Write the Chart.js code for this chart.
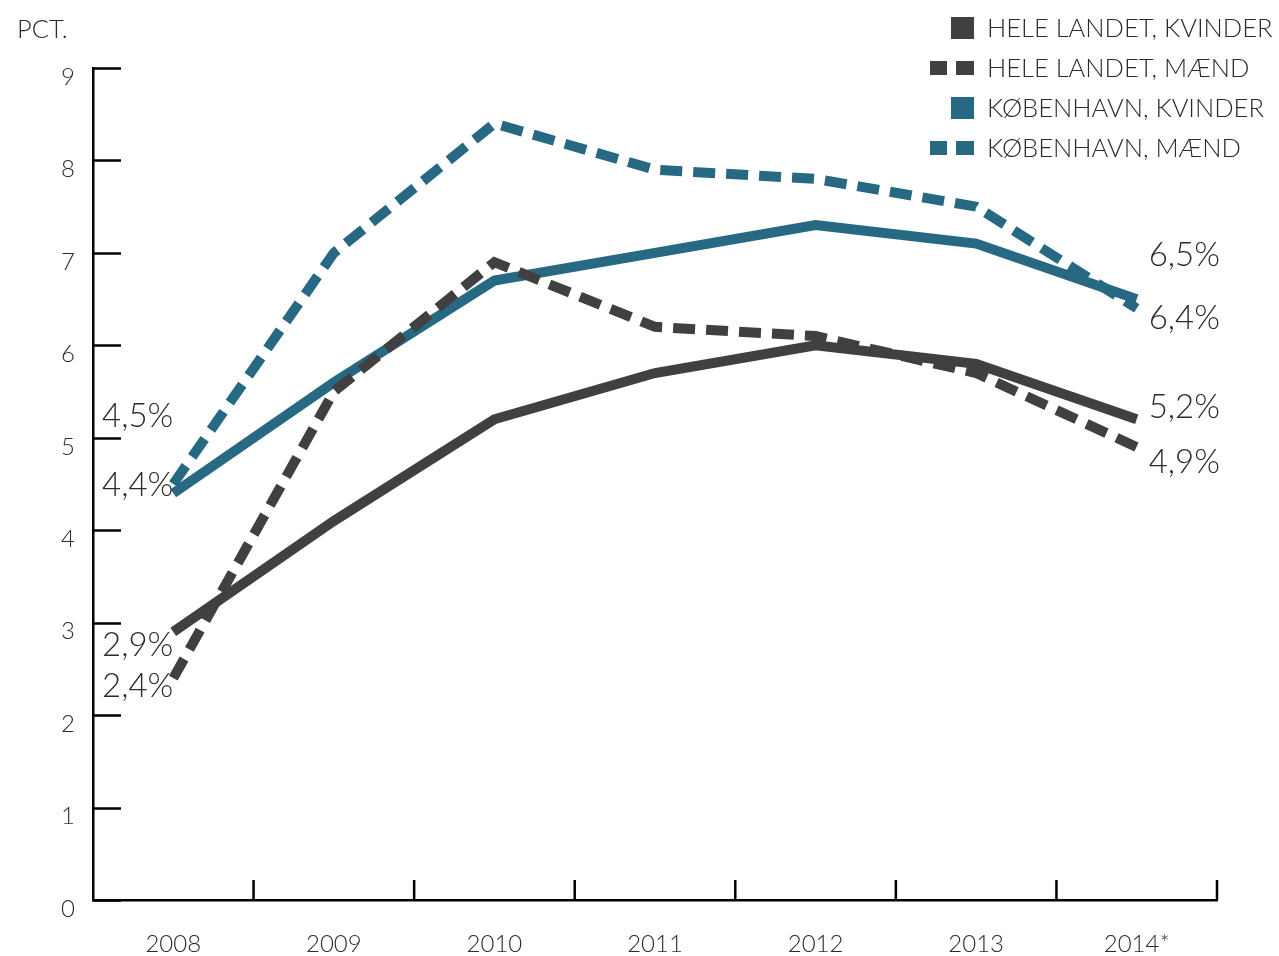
<!DOCTYPE html>
<html>
<head>
<meta charset="utf-8">
<script src="https://cdn.jsdelivr.net/npm/chart.js@4.4.1/dist/chart.umd.min.js"></script>
<style>
  html, body { margin:0; padding:0; background:#fff; }
  #wrap { position:relative; width:1279px; height:956px; }
</style>
</head>
<body>
<div id="wrap"><canvas id="chart" width="1279" height="956"></canvas></div>
<script>
// ---------- Data ----------

const years = ["2008","2009","2010","2011","2012","2013","2014*"];

const heleKvinder = [2.9, 4.1, 5.2, 5.7, 6.0, 5.8, 5.2];
const heleMaend   = [2.4, 5.5, 6.9, 6.2, 6.1, 5.7, 4.9];
const kbhKvinder  = [4.4, 5.6, 6.7, 7.0, 7.3, 7.1, 6.5];
const kbhMaend    = [4.5, 7.0, 8.4, 7.9, 7.8, 7.5, 6.4];

const seriesNames = [
    "HELE LANDET, KVINDER",
    "HELE LANDET, MÆND",
    "KØBENHAVN, KVINDER",
    "KØBENHAVN, MÆND"
];

// ---------- Style ----------

const DARK = "#404040";
const TEAL = "#276983";
const TEXT = "#2b2b2b";
const FONT = "Lato, 'Open Sans', sans-serif";

// label offsets (first point, last point) per series
const labelOffsets = [
    { first: 13,  last: -12 },
    { first: 8,   last: 15 },
    { first: -8,  last: -44 },
    { first: -68, last: 10 }
];

function fmt(v){
    return v.toFixed(1).replace(".", ",") + "%";
}

// ---------- Plugins ----------

const axisTicks = {
    id: "axisTicks",
    afterDraw(chart){
        const ctx = chart.ctx;
        const x = chart.scales.x;
        const y = chart.scales.y;
        ctx.save();
        ctx.strokeStyle = "#000";
        ctx.lineWidth = 2.5;
        y.ticks.forEach((t, i)=>{
            const py = Math.round(y.getPixelForTick(i)) + 0.5;
            ctx.beginPath();
            ctx.moveTo(x.left, py);
            ctx.lineTo(x.left + 28, py);
            ctx.stroke();
        });
        for(let i = 1; i <= years.length; i++){
            const px = x.getPixelForValue(i - 0.5);
            ctx.beginPath();
            ctx.moveTo(px, y.bottom);
            ctx.lineTo(px, y.bottom - 20);
            ctx.stroke();
        }
        ctx.restore();
    }
};

const endLabels = {
    id: "endLabels",
    afterDatasetsDraw(chart){
        const ctx = chart.ctx;
        ctx.save();
        ctx.fillStyle = TEXT;
        ctx.font = "300 33px " + FONT;
        ctx.textBaseline = "middle";
        chart.data.datasets.forEach((ds, di)=>{
            const pts = chart.getDatasetMeta(di).data;
            const first = pts[0];
            const last = pts[pts.length - 1];
            ctx.textAlign = "right";
            ctx.fillText(fmt(ds.data[0]), first.x, first.y + labelOffsets[di].first);
            ctx.textAlign = "left";
            ctx.fillText(fmt(ds.data[ds.data.length - 1]), last.x + 12, last.y + labelOffsets[di].last);
        });
        ctx.restore();
    }
};

const headerLegend = {
    id: "headerLegend",
    afterDraw(chart){
        const ctx = chart.ctx;
        ctx.save();
        ctx.fillStyle = TEXT;
        ctx.font = "300 25.5px " + FONT;
        ctx.textBaseline = "middle";
        ctx.textAlign = "left";
        ctx.fillText("PCT.", 17, 30);

        const rows = [28, 68, 108, 148];
        chart.data.datasets.forEach((ds, i)=>{
            const cy = rows[i];
            ctx.fillStyle = ds.borderColor;
            if(ds.borderDash && ds.borderDash.length){
                ctx.fillRect(930, cy - 7, 17, 14);
                ctx.fillRect(956, cy - 7, 18, 14);
            } else {
                ctx.fillRect(951, cy - 11, 23, 22);
            }
            ctx.fillStyle = TEXT;
            ctx.fillText(ds.label, 987, cy + 1);
        });
        ctx.restore();
    }
};

// ---------- Chart ----------

function makeSet(label, data, color, dashed){
    return {
        label: label,
        data: data,
        borderColor: color,
        backgroundColor: color,
        borderWidth: 10,
        borderDash: dashed ? [22, 11] : [],
        borderCapStyle: "butt",
        borderJoinStyle: "miter",
        pointRadius: 0,
        tension: 0,
        fill: false
    };
}

new Chart(document.getElementById("chart"), {
    type: "line",
    data: {
        labels: years,
        datasets: [
            makeSet(seriesNames[0], heleKvinder, DARK, false),
            makeSet(seriesNames[1], heleMaend, DARK, true),
            makeSet(seriesNames[2], kbhKvinder, TEAL, false),
            makeSet(seriesNames[3], kbhMaend, TEAL, true)
        ]
    },
    options: {
        responsive: false,
        animation: false,
        layout: { padding: { top: 68, right: 62, left: 0, bottom: 0 } },
        plugins: {
            legend: { display: false },
            tooltip: { enabled: false }
        },
        scales: {
            x: {
                offset: true,
                grid: { display: false, drawTicks: false },
                border: { display: true, color: "#000", width: 2.5 },
                ticks: {
                    color: TEXT,
                    font: { family: FONT, size: 24, weight: 300 },
                    padding: 30,
                    maxRotation: 0
                },
                afterFit(scale){ scale.height = 56; }
            },
            y: {
                min: 0,
                max: 9,
                grid: { display: false, drawTicks: false },
                border: { display: true, color: "#000", width: 2.5 },
                ticks: {
                    stepSize: 1,
                    color: TEXT,
                    font: { family: FONT, size: 24, weight: 300 },
                    padding: 18,
                    labelOffset: 9
                },
                afterFit(scale){ scale.width = 93; }
            }
        }
    },
    plugins: [axisTicks, endLabels, headerLegend]
});
</script>
</body>
</html>
